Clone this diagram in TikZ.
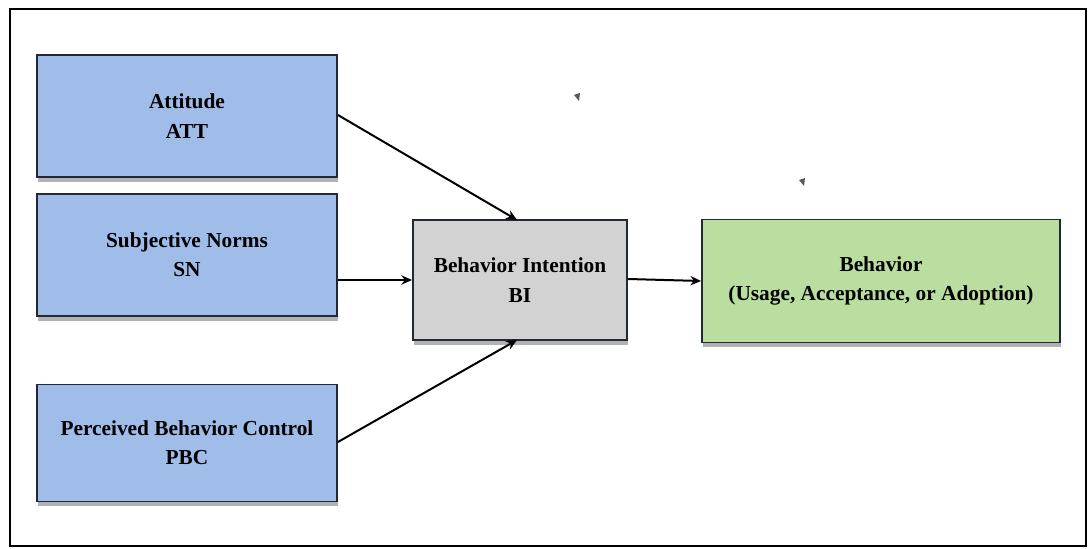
\documentclass[tikz,border=0pt]{standalone}
\usepackage{fontspec}
\setmainfont{Liberation Serif}
\usetikzlibrary{shadows,arrows.meta}
\definecolor{boxblue}{RGB}{160,188,232}
\definecolor{boxgray}{RGB}{210,210,210}
\definecolor{boxgreen}{RGB}{185,222,160}
\definecolor{edgedark}{RGB}{35,40,55}
\begin{document}
\begin{tikzpicture}[x=0.75pt,y=-0.75pt,
  boxstyle/.style={draw=edgedark, line width=1.4pt, minimum width=#1*0.75pt,
    align=center, font=\bfseries\fontsize{16}{22}\selectfont,
    drop shadow={opacity=0.6, shadow xshift=1pt, shadow yshift=-3.5pt}},
  conn/.style={-{Stealth[length=8pt,width=7pt]}, line width=1.5pt, black}]
\useasboundingbox (0,0) rectangle (1090,549);
\fill[white] (0,0) rectangle (1090,549);
\draw[line width=2.2pt] (10,9) rectangle (1086,546);
% nodes
\node[boxstyle=300, minimum height=122*0.75pt, fill=boxblue] (att) at (187,116) {Attitude\\ATT};
\node[boxstyle=300, minimum height=122*0.75pt, fill=boxblue] (sn) at (187,255) {Subjective Norms\\SN};
\node[boxstyle=300, minimum height=117*0.75pt, fill=boxblue] (pbc) at (187,443) {Perceived Behavior Control\\PBC};
\node[boxstyle=214, minimum height=120*0.75pt, fill=boxgray] (bi) at (520,280) {Behavior Intention\\BI};
\node[boxstyle=358, minimum height=123*0.75pt, fill=boxgreen] (beh) at (881,281) {Behavior\\(Usage, Acceptance, or Adoption)};
% connectors
\coordinate (biT) at (517,220);
\coordinate (biB) at (517,340);
\draw[conn] (att.east |- 0,115) -- (biT);
\draw[conn] (sn.east |- 0,280) -- (bi.west |- 0,280);
\draw[conn] (pbc.east |- 0,442) -- (biB);
\draw[conn] (bi.east |- 0,279) -- (beh.west |- 0,281);
% stray small arrowheads
\fill[gray!70!black] (574,95) -- (580,93) -- (579,101) -- cycle;
\fill[gray!70!black] (799,180) -- (805,178) -- (804,186) -- cycle;
\end{tikzpicture}
\end{document}
